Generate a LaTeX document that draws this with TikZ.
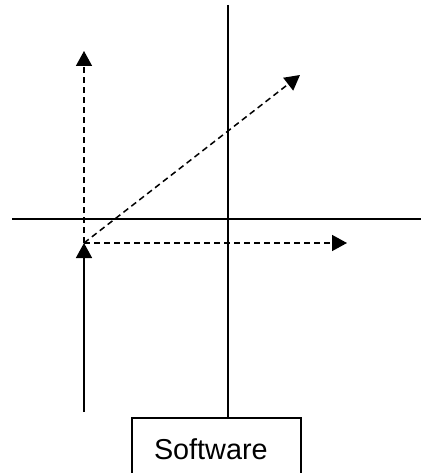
\documentclass[tikz,border=0pt]{standalone}
\usepackage{fontspec}
\setmainfont{Liberation Sans}
\usetikzlibrary{arrows.meta,positioning,calc}
\tikzset{
  axisline/.style={line width=1.6pt},
  solidvec/.style={line width=1.6pt,-{Triangle[length=15pt,width=16pt]}},
  dashvec/.style={line width=1.5pt,dash pattern=on 6pt off 4pt,-{Triangle[length=15pt,width=16pt]}}
}
\begin{document}
\begin{tikzpicture}[x=1pt,y=-1pt]
\useasboundingbox (0,0) rectangle (425,473);
\coordinate (vtop) at (228,5);
\coordinate (hleft) at (12,219);
\coordinate (hright) at (421,219);
\coordinate (origin) at (84,243);
\coordinate (base) at (84,412);
\coordinate (uptip) at (84,51);
\coordinate (righttip) at (347,243);
\coordinate (diagtip) at (300,75);
\node[draw,line width=1.6pt,anchor=north,minimum width=169pt,minimum height=62pt,inner xsep=22pt,text width=125pt,align=left,font=\fontsize{28.8}{32}\selectfont] (sw) at (216.5,417) {Software};
\draw[axisline] (vtop) -- (vtop |- sw.north);
\draw[axisline] (hleft) -- (hright);
\draw[solidvec] (base) -- (origin);
\draw[dashvec] (origin) -- (uptip);
\draw[dashvec] (origin) -- (righttip);
\draw[dashvec] (origin) -- (diagtip);
\end{tikzpicture}
\end{document}
